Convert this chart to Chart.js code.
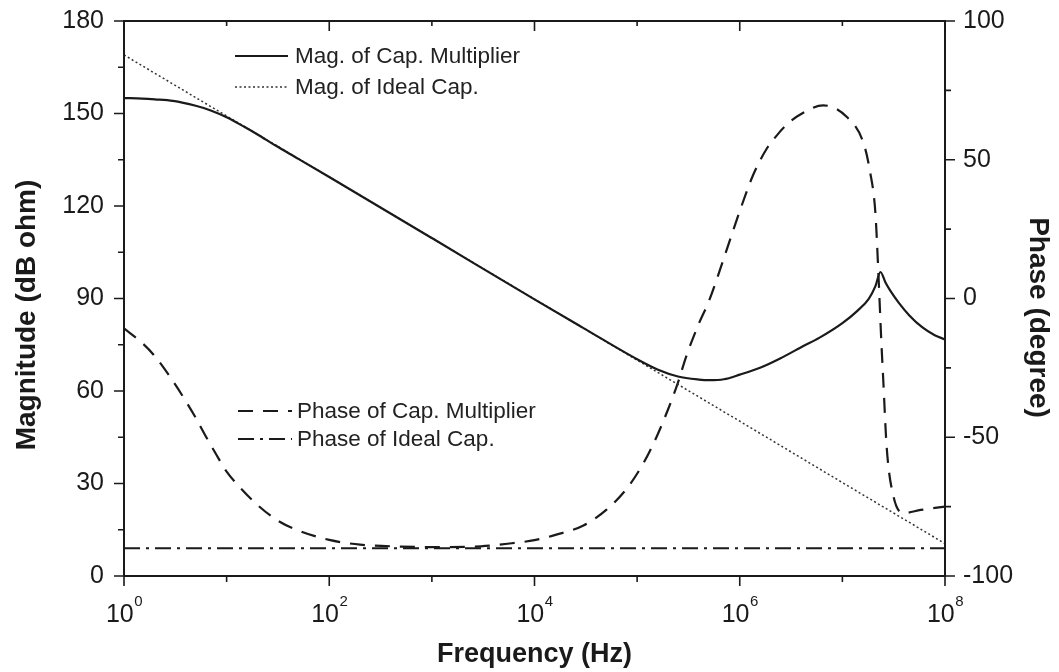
<!DOCTYPE html>
<html><head><meta charset="utf-8">
<script src="https://cdn.jsdelivr.net/npm/chart.js@4.4.1/dist/chart.umd.min.js"></script>
<style>html,body{margin:0;padding:0;background:#fff}</style>
</head><body>
<canvas id="c" width="1059" height="672"></canvas>
<script>
// ---------- data ----------
const magCapFreq = [1, 1.5, 2, 3, 5, 7, 10, 15, 20, 30, 50, 100, 1e3, 1e4, 3e4, 1e5, 1.6e5, 2.5e5, 4e5, 5e5, 7e5, 1e6, 1.6e6, 2.5e6, 4e6, 6e6, 1e7, 1.4e7, 1.8e7, 2.1e7, 2.35e7, 2.63e7, 2.95e7, 3.55e7, 4.47e7, 6.03e7, 7.94e7, 1e8];
const magCapDb   = [155.0, 154.85, 154.6, 154.1, 152.5, 151.0, 148.8, 145.6, 143.2, 139.6, 135.3, 129.4, 109.6, 89.7, 80.4, 70.3, 66.9, 64.7, 63.7, 63.5, 63.8, 65.3, 67.6, 70.6, 74.3, 77.3, 82.0, 86.0, 89.8, 94.0, 98.6, 95.2, 92.4, 88.6, 84.6, 80.6, 78.1, 76.7];

const magIdealFreq = [1, 10, 100, 1e3, 1e4, 1e5, 1e6, 1e7, 1e8];
const magIdealDb   = [169.0, 149.2, 129.4, 109.6, 89.8, 70.0, 50.2, 30.3, 10.5];

const phaseCapFreq = [1, 1.5, 2, 3, 4, 5, 6.3, 8, 10, 13, 20, 32, 50, 100, 200, 500, 1e3, 3e3, 6e3, 1e4, 1.6e4, 3e4, 5e4, 8e4, 1.15e5, 1.55e5, 2e5, 2.5e5, 3e5, 4e5, 5e5, 7e5, 1e6, 1.35e6, 1.8e6, 2.3e6, 3e6, 4e6, 6.5e6, 1.1e7, 1.6e7, 1.85e7, 2.1e7, 2.25e7, 2.4e7, 2.5e7, 2.7e7, 3.15e7, 4e7, 5.8e7, 1e8];
const phaseCapDeg  = [-10.8, -16, -20.8, -29.8, -37, -43, -49.8, -56.5, -62.4, -67.4, -74.4, -80.2, -83.6, -87, -88.7, -89.4, -89.6, -89.3, -88.2, -87.1, -85.2, -81.8, -76.2, -68.3, -59.4, -49.8, -40, -30.3, -21, -9, -1, 14.5, 31.5, 44.5, 53.5, 58.8, 63.3, 66.6, 69.6, 65.5, 56.2, 46.2, 30.6, 8, -16, -29, -53.4, -71.4, -77.3, -76.2, -75];

const phaseIdealFreq = [1, 1e8];
const phaseIdealDeg  = [-90, -90];

const xDecades    = [1, 10, 100, 1e3, 1e4, 1e5, 1e6, 1e7, 1e8];
const xTickValues = [1, 1e2, 1e4, 1e6, 1e8];
const xTickBase   = '10';
const xTickExps   = ['0', '2', '4', '6', '8'];

const seriesLabels = ['Mag. of Cap. Multiplier', 'Mag. of Ideal Cap.', 'Phase of Cap. Multiplier', 'Phase of Ideal Cap.'];
const xTitle = 'Frequency (Hz)';
const yLeftTitle = 'Magnitude (dB ohm)';
const yRightTitle = 'Phase (degree)';

// ---------- rendering ----------
const FONT = '"Liberation Sans", Arial, Helvetica, sans-serif';
const INK = '#1a1a1a';
const pts = (xs, ys) => xs.map((x, i) => ({x, y: ys[i]}));

const decorations = {
  id: 'decorations',
  afterDatasetsDraw(chart) {
    const {ctx, chartArea: a, scales} = chart;
    const xs = scales.x, yL = scales.yMag, yR = scales.yPhase;
    ctx.save();
    // frame
    ctx.strokeStyle = INK;
    ctx.lineWidth = 2;
    ctx.strokeRect(a.left, a.top, a.right - a.left, a.bottom - a.top);
    // tick marks
    ctx.lineWidth = 1.6;
    ctx.beginPath();
    xDecades.forEach(f => {
      const px = xs.getPixelForValue(f);
      const major = xTickValues.includes(f);
      ctx.moveTo(px, a.bottom); ctx.lineTo(px, a.bottom + (major ? 10 : 6));
      ctx.moveTo(px, a.top); ctx.lineTo(px, a.top + (major ? 10 : 5));
    });
    for (let v = yL.min; v <= yL.max; v += 15) {
      const py = yL.getPixelForValue(v);
      ctx.moveTo(a.left, py); ctx.lineTo(a.left - (v % 30 === 0 ? 10 : 6), py);
    }
    for (let v = yR.min; v <= yR.max; v += 25) {
      const py = yR.getPixelForValue(v);
      ctx.moveTo(a.right, py); ctx.lineTo(a.right + (v % 50 === 0 ? 10 : 6), py);
    }
    ctx.stroke();

    // x tick labels with superscript exponents
    ctx.fillStyle = INK;
    ctx.textAlign = 'left';
    ctx.textBaseline = 'alphabetic';
    xTickValues.forEach((f, i) => {
      const px = xs.getPixelForValue(f);
      ctx.font = `25px ${FONT}`;
      const w1 = ctx.measureText(xTickBase).width;
      ctx.font = `15px ${FONT}`;
      const w2 = ctx.measureText(xTickExps[i]).width;
      const start = px - (w1 + w2) / 2;
      ctx.font = `25px ${FONT}`;
      ctx.fillText(xTickBase, start, 622);
      ctx.font = `15px ${FONT}`;
      ctx.fillText(xTickExps[i], start + w1 + 0.5, 606);
    });

    // axis titles
    ctx.font = `bold 27px ${FONT}`;
    ctx.textAlign = 'center';
    ctx.fillText(xTitle, (a.left + a.right) / 2, 662);

    ctx.font = `bold 28px ${FONT}`;
    ctx.save();
    ctx.translate(35, 315);
    ctx.rotate(-Math.PI / 2);
    ctx.fillText(yLeftTitle, 0, 0);
    ctx.restore();

    ctx.save();
    ctx.translate(1030, 317.5);
    ctx.rotate(Math.PI / 2);
    ctx.fillText(yRightTitle, 0, 0);
    ctx.restore();

    // legends
    const rows = [
      {ds: 0, x1: 235, x2: 288, y: 56, tx: 295},
      {ds: 1, x1: 235, x2: 288, y: 87, tx: 295},
      {ds: 2, x1: 238, x2: 292, y: 411, tx: 297},
      {ds: 3, x1: 238, x2: 292, y: 439, tx: 297},
    ];
    rows.forEach(r => {
      const d = chart.data.datasets[r.ds];
      ctx.save();
      ctx.strokeStyle = d.borderColor;
      ctx.lineWidth = d.borderWidth;
      ctx.setLineDash(d.borderDash || []);
      ctx.beginPath();
      ctx.moveTo(r.x1, r.y); ctx.lineTo(r.x2, r.y);
      ctx.stroke();
      ctx.restore();
      ctx.font = `22.5px ${FONT}`;
      ctx.fillStyle = '#222';
      ctx.textAlign = 'left';
      ctx.textBaseline = 'middle';
      ctx.fillText(seriesLabels[r.ds], r.tx, r.y + 1);
    });
    ctx.restore();
  }
};

function fixY(width) {
  return s => { s.width = width; s.paddingTop = 0; s.paddingBottom = 0; };
}

new Chart(document.getElementById('c'), {
  type: 'line',
  data: {
    datasets: [
      {label: seriesLabels[0], data: pts(magCapFreq, magCapDb), yAxisID: 'yMag',
       borderColor: INK, borderWidth: 2.2, pointRadius: 0, cubicInterpolationMode: 'monotone', fill: false},
      {label: seriesLabels[1], data: pts(magIdealFreq, magIdealDb), yAxisID: 'yMag',
       borderColor: '#333', borderWidth: 1.5, borderDash: [2, 2.5], pointRadius: 0, fill: false},
      {label: seriesLabels[2], data: pts(phaseCapFreq, phaseCapDeg), yAxisID: 'yPhase',
       borderColor: INK, borderWidth: 2.2, borderDash: [15, 10], pointRadius: 0, cubicInterpolationMode: 'monotone', fill: false},
      {label: seriesLabels[3], data: pts(phaseIdealFreq, phaseIdealDeg), yAxisID: 'yPhase',
       borderColor: INK, borderWidth: 2, borderDash: [16, 6, 3, 6], pointRadius: 0, fill: false}
    ]
  },
  options: {
    responsive: false,
    animation: false,
    layout: {padding: {top: 21, left: 0, right: 0, bottom: 0}},
    plugins: {legend: {display: false}, tooltip: {enabled: false}},
    scales: {
      x: {type: 'logarithmic', min: 1, max: 1e8, position: 'bottom',
          grid: {display: false, drawTicks: false}, border: {display: false},
          ticks: {display: false},
          afterFit(s) { s.height = 96; s.paddingLeft = 0; s.paddingRight = 0; }},
      yMag: {position: 'left', min: 0, max: 180,
          ticks: {stepSize: 30, font: {size: 25, family: FONT}, color: INK, padding: 20},
          grid: {display: false, drawTicks: false}, border: {display: false},
          afterFit: fixY(124)},
      yPhase: {position: 'right', min: -100, max: 100,
          ticks: {stepSize: 50, font: {size: 25, family: FONT}, color: INK, padding: 18},
          grid: {display: false, drawTicks: false}, border: {display: false},
          afterFit: fixY(114)}
    }
  },
  plugins: [decorations]
});
</script>
</body></html>
